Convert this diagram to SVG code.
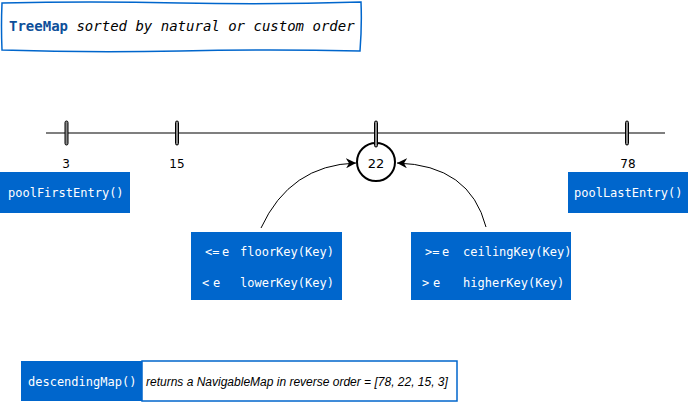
<svg xmlns="http://www.w3.org/2000/svg" width="688" height="402" viewBox="0 0 688 402">
<style>
.mono{font-family:"DejaVu Sans Mono",monospace;font-size:12px}
.w{fill:#ffffff}
.blue{fill:#0066CC}
.tick{fill:#888888;stroke:#000;stroke-width:1}
.lbl{font-family:"DejaVu Sans",sans-serif;font-size:12px;fill:#000;text-anchor:middle}
.conn{fill:none;stroke:#000;stroke-width:1}
</style>
<defs>
<marker id="ah" viewBox="0 0 10 10" refX="10" refY="5" markerWidth="10" markerHeight="10" markerUnits="userSpaceOnUse" orient="auto">
<path d="M0,0 L10,5 L0,10 L3,5 Z" fill="#000"/>
</marker>
</defs>
<rect width="688" height="402" fill="#fff"/>
<g id="title">
<path d="M2,3 Q90,1 180,3 T361,2 Q362,26 360,51 Q270,49 180,51 T2,50 Q1,26 2,3 Z" fill="#fff" stroke="#0066CC" stroke-width="1.5"/>
<text x="9" y="31" class="mono" style="font-size:14px"><tspan font-weight="bold" fill="#0D4F9A">TreeMap</tspan><tspan font-style="italic" fill="#000"> sorted by natural or custom order</tspan></text>
</g>
<g id="timeline">
<line x1="46" y1="133" x2="665" y2="133" stroke="#000" stroke-width="1.2"/>
<rect class="tick" x="65" y="121" width="3" height="24" rx="1.5"/>
<rect class="tick" x="175.5" y="121" width="3" height="24" rx="1.5"/>
<rect class="tick" x="625.5" y="121" width="3" height="24" rx="1.5"/>
<text class="lbl" x="66" y="168">3</text>
<text class="lbl" x="177" y="168">15</text>
<text class="lbl" x="628" y="168">78</text>
</g>
<g id="node22">
<circle cx="376" cy="162" r="19" fill="#fff" stroke="#000" stroke-width="2"/>
<rect class="tick" x="374.5" y="121" width="3" height="26" rx="1.5"/>
<text class="lbl" x="376" y="168" style="font-size:13px">22</text>
</g>
<g id="poolFirstEntry">
<rect class="blue" x="0" y="172" width="130" height="41"/>
<text class="mono w" x="8" y="197">poolFirstEntry()</text>
</g>
<g id="poolLastEntry">
<rect class="blue" x="568" y="172" width="120" height="41"/>
<text class="mono w" x="574" y="197">poolLastEntry()</text>
</g>
<g id="lowerBox">
<rect class="blue" x="191" y="232" width="151" height="68"/>
<text class="mono w" x="205" y="256">&lt;=</text>
<text class="mono w" x="222" y="256">e</text>
<text class="mono w" x="240" y="256">floorKey(Key)</text>
<text class="mono w" x="202" y="287">&lt;</text>
<text class="mono w" x="213" y="287">e</text>
<text class="mono w" x="240" y="287">lowerKey(Key)</text>
</g>
<g id="higherBox">
<rect class="blue" x="411" y="232" width="160" height="68"/>
<text class="mono w" x="425" y="256">&gt;=</text>
<text class="mono w" x="442" y="256">e</text>
<text class="mono w" x="463" y="256">ceilingKey(Key)</text>
<text class="mono w" x="422" y="287">&gt;</text>
<text class="mono w" x="433" y="287">e</text>
<text class="mono w" x="463" y="287">higherKey(Key)</text>
</g>
<g id="descendingMap">
<rect class="blue" x="21" y="361" width="121" height="40"/>
<text class="mono w" x="28" y="386">descendingMap()</text>
<rect x="142" y="361" width="315" height="40" fill="#fff" stroke="#0066CC" stroke-width="1.5"/>
<text x="146" y="386" style="font-family:'Liberation Sans',Arial,sans-serif;font-size:12px;font-style:italic" fill="#000">returns a NavigableMap in reverse order = [78, 22, 15, 3]</text>
</g>
<g id="connectors">
<path class="conn" d="M261,228 Q290,165 356,163" marker-end="url(#ah)"/>
<path class="conn" d="M486,227 Q470,165 397,163" marker-end="url(#ah)"/>
</g>
</svg>
